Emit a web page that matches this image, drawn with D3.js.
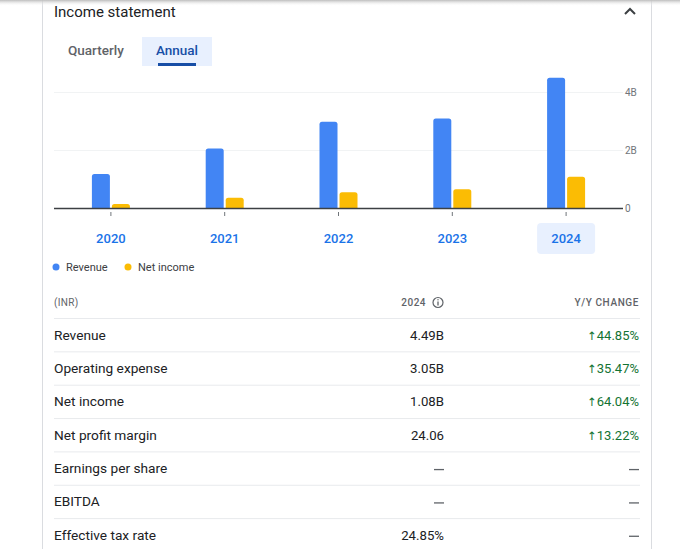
<!DOCTYPE html>
<html>
<head>
<meta charset="utf-8">
<script src="https://cdn.jsdelivr.net/npm/d3@7"></script>
<style>
  html, body { margin: 0; padding: 0; background: #fff; }
  svg { display: block; font-family: Roboto, "Noto Sans", Arial, sans-serif; }
</style>
</head>
<body>
<svg id="chart" width="680" height="549"></svg>
<script>
// ---- data ----
const years = ["2020", "2021", "2022", "2023", "2024"];
const revenue = [1.17, 2.05, 2.97, 3.09, 4.49];     // billions INR
const netIncome = [0.14, 0.35, 0.54, 0.65, 1.08];   // billions INR
const yTickValues = [0, 2, 4];
const yTickLabels = ["0", "2B", "4B"];
const seriesNames = ["Revenue", "Net income"];
const seriesColors = ["#4285f4", "#fbbc04"];
const selectedYear = "2024";

const rowLabels = ["Revenue", "Operating expense", "Net income", "Net profit margin", "Earnings per share", "EBITDA", "Effective tax rate"];
const rowValues = ["4.49B", "3.05B", "1.08B", "24.06", "—", "—", "24.85%"];
const rowChanges = ["44.85%", "35.47%", "64.04%", "13.22%", "—", "—", "—"];

const svg = d3.select("#chart");

// ---- card frame ----
const defs = svg.append("defs");
const grad = defs.append("linearGradient").attr("id", "topShadow").attr("x1", 0).attr("y1", 0).attr("x2", 0).attr("y2", 1);
grad.append("stop").attr("offset", "0%").attr("stop-color", "#bdbdbd");
grad.append("stop").attr("offset", "100%").attr("stop-color", "#ffffff").attr("stop-opacity", 0);

svg.append("line").attr("x1", 42.5).attr("x2", 42.5).attr("y1", 0).attr("y2", 549).attr("stroke", "#dadce0");
svg.append("line").attr("x1", 651.5).attr("x2", 651.5).attr("y1", 0).attr("y2", 549).attr("stroke", "#dadce0");
svg.append("rect").attr("x", 0).attr("y", 0).attr("width", 680).attr("height", 6).attr("fill", "url(#topShadow)");

// title
svg.append("text").attr("x", 54).attr("y", 17).attr("font-size", 15).attr("fill", "#202124").text("Income statement");
// chevron
svg.append("path").attr("d", "M625,14 L630,9 L635,14").attr("fill", "none").attr("stroke", "#3c4043").attr("stroke-width", 2);

// tabs
svg.append("text").attr("x", 68).attr("y", 55).attr("font-size", 13.5).attr("fill", "#5f6368").attr("font-weight", 500).text("Quarterly");
svg.append("rect").attr("x", 142).attr("y", 37).attr("width", 70).attr("height", 29).attr("fill", "#e8f0fe");
svg.append("text").attr("x", 177).attr("y", 55).attr("text-anchor", "middle").attr("font-size", 13.5).attr("font-weight", 500).attr("fill", "#174ea6").text("Annual");
svg.append("rect").attr("x", 158).attr("y", 63).attr("width", 38).attr("height", 3).attr("fill", "#174ea6");

// ---- chart ----
const x = d3.scaleBand().domain(years).range([54, 623]).padding(0);
const y = d3.scaleLinear().domain([0, 4]).range([208, 92]);
const barW = 18, gap = 1;

// gridlines
svg.append("g").selectAll("line").data(yTickValues.filter(v => v > 0)).join("line")
  .attr("x1", 54).attr("x2", 623).attr("y1", d => y(d) + 0.5).attr("y2", d => y(d) + 0.5)
  .attr("stroke", "#f1f3f4");

// y labels via axis
const yAxis = d3.axisRight(y).tickValues(yTickValues).tickFormat((d, i) => yTickLabels[i]).tickSize(0).tickPadding(0);
const yg = svg.append("g").attr("transform", "translate(625,0)").call(yAxis);
yg.select(".domain").remove();
yg.selectAll("text").attr("font-size", 10).attr("fill", "#70757a").attr("font-family", "Roboto, sans-serif");

function topRounded(x0, y0, w, h, r) {
  r = Math.min(r, h, w / 2);
  return `M${x0},${y0 + h} L${x0},${y0 + r} Q${x0},${y0} ${x0 + r},${y0} L${x0 + w - r},${y0} Q${x0 + w},${y0} ${x0 + w},${y0 + r} L${x0 + w},${y0 + h} Z`;
}

const series = [revenue, netIncome];
series.forEach((vals, si) => {
  svg.append("g").selectAll("path").data(years).join("path")
    .attr("fill", seriesColors[si])
    .attr("d", (d, i) => {
      const c = x(d) + x.bandwidth() / 2;
      const x0 = si === 0 ? c - gap - barW : c + gap;
      const top = y(vals[i]);
      return topRounded(x0, top, barW, y(0) - top, 2.5);
    });
});

// baseline
svg.append("line").attr("x1", 54).attr("x2", 623).attr("y1", 208.5).attr("y2", 208.5).attr("stroke", "#3c4043").attr("stroke-width", 1.5);

// ticks via axis
const xAxis = d3.axisBottom(x).tickSize(4).tickFormat("");
const xg = svg.append("g").attr("transform", "translate(0,212)").call(xAxis);
xg.select(".domain").remove();
xg.selectAll("line").attr("stroke", "#70757a");

// year labels
svg.append("rect").attr("x", x(selectedYear) + x.bandwidth() / 2 - 29).attr("y", 223).attr("width", 58).attr("height", 31).attr("rx", 4).attr("fill", "#e8f0fe");
svg.append("g").selectAll("text").data(years).join("text")
  .attr("x", d => x(d) + x.bandwidth() / 2).attr("y", 243)
  .attr("text-anchor", "middle").attr("font-size", 13).attr("font-weight", 500)
  .attr("fill", "#1a73e8").text(d => d);

// legend
const legendX = [56, 128];
seriesNames.forEach((n, i) => {
  svg.append("circle").attr("cx", legendX[i]).attr("cy", 267).attr("r", 3.5).attr("fill", seriesColors[i]);
  svg.append("text").attr("x", legendX[i] + 10).attr("y", 271).attr("font-size", 11).attr("fill", "#3c4043").text(n);
});

// ---- table ----
svg.append("text").attr("x", 54).attr("y", 306).attr("font-size", 10).attr("fill", "#5f6368").attr("letter-spacing", 0.3).text("(INR)");
svg.append("text").attr("x", 426).attr("y", 306).attr("text-anchor", "end").attr("font-size", 10).attr("font-weight", 500).attr("fill", "#5f6368").attr("letter-spacing", 0.5).text(selectedYear);
svg.append("circle").attr("cx", 438).attr("cy", 302.5).attr("r", 5).attr("fill", "none").attr("stroke", "#5f6368").attr("stroke-width", 1.2);
svg.append("line").attr("x1", 438).attr("x2", 438).attr("y1", 301.5).attr("y2", 305.5).attr("stroke", "#5f6368").attr("stroke-width", 1.3);
svg.append("circle").attr("cx", 438).attr("cy", 299.8).attr("r", 0.7).attr("fill", "#5f6368");
svg.append("text").attr("x", 639).attr("y", 306).attr("text-anchor", "end").attr("font-size", 10).attr("font-weight", 500).attr("fill", "#5f6368").attr("letter-spacing", 0.6).text("Y/Y CHANGE");

const row0 = 318.5, rowH = 33.35;
rowLabels.forEach((lab, i) => {
  const top = row0 + i * rowH;
  svg.append("line").attr("x1", 54).attr("x2", 640).attr("y1", top).attr("y2", top).attr("stroke", "#e8eaed");
  const cy = top + rowH / 2 + 4.5;
  svg.append("text").attr("x", 54).attr("y", cy).attr("font-size", 13.7).attr("fill", "#202124").text(lab);
  const v = rowValues[i];
  if (v === "—") {
    svg.append("line").attr("x1", 434).attr("x2", 444).attr("y1", top + rowH / 2 + 1).attr("y2", top + rowH / 2 + 1).attr("stroke", "#5f6368").attr("stroke-width", 1.3);
  } else {
    svg.append("text").attr("x", 444).attr("y", cy).attr("text-anchor", "end").attr("font-size", 13.2).attr("fill", "#202124").text(v);
  }
  const c = rowChanges[i];
  if (c === "—") {
    svg.append("line").attr("x1", 629).attr("x2", 639).attr("y1", top + rowH / 2 + 1).attr("y2", top + rowH / 2 + 1).attr("stroke", "#5f6368").attr("stroke-width", 1.3);
  } else {
    const t = svg.append("text").attr("x", 639).attr("y", cy).attr("text-anchor", "end").attr("font-size", 13).attr("fill", "#137333");
    t.append("tspan").attr("font-family", "DejaVu Sans").attr("font-size", 11.5).text("↑");
    t.append("tspan").text(c);
  }
});
</script>
</body>
</html>
